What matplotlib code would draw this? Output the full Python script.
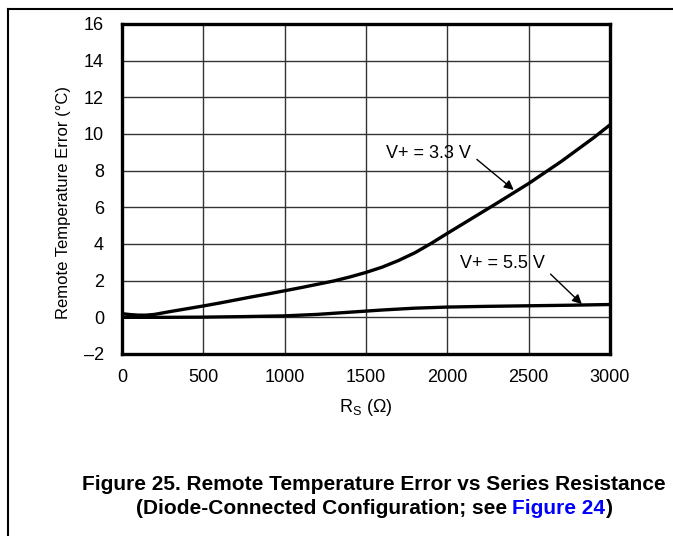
import matplotlib
matplotlib.use("Agg")
import matplotlib.pyplot as plt
from matplotlib.lines import Line2D

plt.rcParams["font.family"] = ["Liberation Sans", "DejaVu Sans"]

_INK = "#000000"
_GRID = "#333333"
_LINK = "#0000ff"

# Series resistance (ohm) and remote temperature error (degC)
rs_33 = [0, 50, 100, 150, 200, 300, 400, 500, 600, 700, 800, 900, 1000, 1100,
         1200, 1300, 1400, 1500, 1600, 1700, 1800, 1900, 2000, 2100, 2200,
         2300, 2400, 2500, 2600, 2700, 2800, 2900, 3000]
err_33 = [0.2, 0.15, 0.12, 0.12, 0.16, 0.32, 0.47, 0.62, 0.78, 0.95, 1.12,
          1.28, 1.45, 1.62, 1.8, 1.98, 2.2, 2.45, 2.74, 3.1, 3.52, 4.03, 4.58,
          5.12, 5.66, 6.2, 6.75, 7.3, 7.9, 8.5, 9.15, 9.8, 10.5]

rs_55 = [0, 250, 500, 750, 1000, 1200, 1400, 1600, 1800, 2000, 2250, 2500,
         2750, 3000]
err_55 = [0.0, 0.0, 0.01, 0.04, 0.08, 0.16, 0.28, 0.4, 0.5, 0.56, 0.6, 0.63,
          0.66, 0.7]

xticks = [0, 500, 1000, 1500, 2000, 2500, 3000]
yticks = [-2, 0, 2, 4, 6, 8, 10, 12, 14, 16]
ytick_labels = ["\u20132" if v < 0 else str(v) for v in yticks]

W, H = 673, 536
fig = plt.figure(figsize=(W / 100, H / 100), dpi=100)
ax = fig.add_axes([122 / W, 1 - 354 / H, (610 - 122) / W, (354 - 24) / H])

ax.plot(rs_33, err_33, color=_INK, lw=2.4, solid_capstyle="butt")
ax.plot(rs_55, err_55, color=_INK, lw=2.4, solid_capstyle="butt")

ax.set_xlim(0, 3000)
ax.set_ylim(-2, 16)
ax.set_xticks(xticks)
ax.set_yticks(yticks)
ax.set_yticklabels(ytick_labels)
ax.tick_params(length=0, labelsize=13, colors=_INK)
ax.tick_params(axis="y", pad=13)
ax.tick_params(axis="x", pad=11)
ax.grid(True, color=_GRID, lw=1.0)
ax.set_axisbelow(True)
for spine in ax.spines.values():
    spine.set_linewidth(2.4)
    spine.set_color(_INK)

ax.set_ylabel("Remote Temperature Error (\u00b0C)", fontsize=12)
ax.yaxis.set_label_coords(-0.104, 0.458)
ax.set_xlabel("R$_\\mathregular{S}$ (\u03a9)", fontsize=13, labelpad=8)

# callouts
ax.annotate("V+ = 3.3 V", xy=(2408, 6.95), xytext=(1623, 8.93),
            fontsize=13, va="center", ha="left",
            arrowprops=dict(arrowstyle="-|>", color=_INK, lw=1.0,
                            mutation_scale=14, shrinkA=3, shrinkB=0,
                            relpos=(1.0, 0.45)))
ax.annotate("V+ = 5.5 V", xy=(2827, 0.72), xytext=(2077, 2.94),
            fontsize=13, va="center", ha="left",
            arrowprops=dict(arrowstyle="-|>", color=_INK, lw=1.0,
                            mutation_scale=14, shrinkA=3, shrinkB=0,
                            relpos=(1.0, 0.2)))

# page frame lines
fig.add_artist(Line2D([8 / W, 1], [1 - 9 / H, 1 - 9 / H], color=_INK, lw=1.5))
fig.add_artist(Line2D([8 / W, 8 / W], [0, 1 - 9 / H], color=_INK, lw=1.5))

# caption, second line has a blue link in the middle
cx = 374 / W
fig.text(cx, 1 - 484 / H, "Figure 25. Remote Temperature Error vs Series Resistance",
         ha="center", va="center", fontsize=15, fontweight="bold")
parts = [("(Diode-Connected Configuration; see ", _INK), ("Figure 24", _LINK), (")", _INK)]
renderer = fig.canvas.get_renderer()
texts = []
for s, c in parts:
    t = fig.text(0, 1 - 508 / H, s, ha="left", va="center", fontsize=15,
                 fontweight="bold", color=c)
    texts.append(t)
widths = [t.get_window_extent(renderer).width for t in texts]
x = cx * W - sum(widths) / 2
for t, w in zip(texts, widths):
    t.set_x(x / W)
    x += w

fig.savefig("out.png", dpi=100)
